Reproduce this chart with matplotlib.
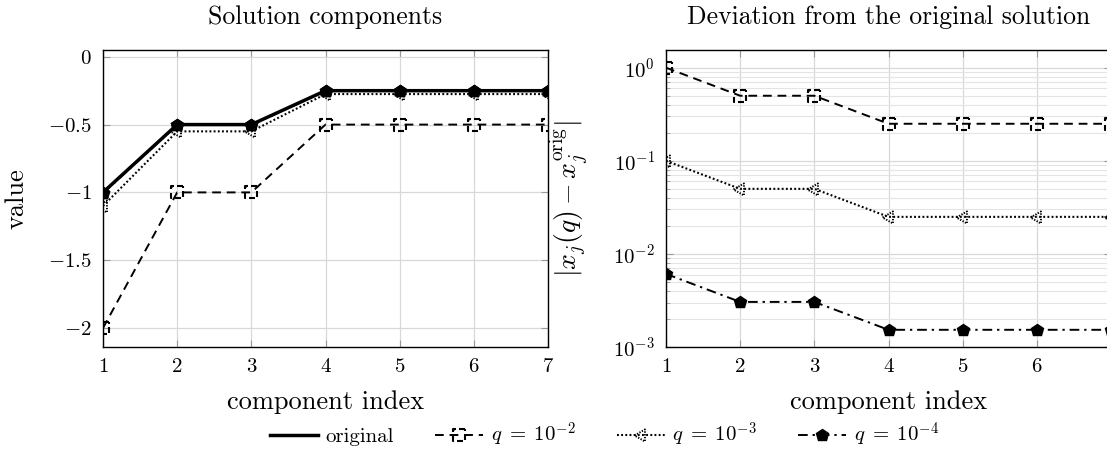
import numpy as np
import matplotlib
matplotlib.use("Agg")
import matplotlib.pyplot as plt
from matplotlib.path import Path
from matplotlib.lines import Line2D
from matplotlib.ticker import FuncFormatter, FixedLocator

plt.rcParams['font.family'] = 'cmr10'
plt.rcParams['mathtext.fontset'] = 'cm'
plt.rcParams['axes.formatter.use_mathtext'] = True

# data
idx = [1, 2, 3, 4, 5, 6, 7]
original = [-1.0, -0.5, -0.5, -0.25, -0.25, -0.25, -0.25]
sol_q2 = [-2.0, -1.0, -1.0, -0.5, -0.5, -0.5, -0.5]
sol_q3 = [-1.1, -0.55, -0.55, -0.275, -0.275, -0.275, -0.275]
sol_q4 = [-1.0061, -0.50305, -0.50305, -0.25153, -0.25153, -0.25153, -0.25153]
dev_q2 = [1.0, 0.5, 0.5, 0.25, 0.25, 0.25, 0.25]
dev_q3 = [0.1, 0.05, 0.05, 0.025, 0.025, 0.025, 0.025]
dev_q4 = [0.0061, 0.00305, 0.00305, 0.00153, 0.00153, 0.00153, 0.00153]
labels = ['original', r'$q\;=\;10^{-2}$', r'$q\;=\;10^{-3}$', r'$q\;=\;10^{-4}$']


def dashed_marker(verts, on, off, n=600):
    # outline of a closed polygon cut up with a dash pattern (pgfplots look)
    verts = np.asarray(verts, float)
    pts = np.vstack([verts, verts[:1]])
    seg = np.hypot(*np.diff(pts, axis=0).T)
    cum = np.cumsum(np.r_[0, seg])
    s = np.unique(np.concatenate([np.linspace(0, cum[-1], n), cum]))
    xs = np.interp(s, cum, pts[:, 0])
    ys = np.interp(s, cum, pts[:, 1])
    onmask = (s % (on + off)) < on
    v, c = [], []
    prev = False
    for x, y, m in zip(xs, ys, onmask):
        if m:
            v.append((x, y))
            c.append(Path.LINETO if prev else Path.MOVETO)
        prev = m
    return Path(v, c)


square_m = dashed_marker([(1, 1), (-1, 1), (-1, -1), (1, -1)], 1.0, 0.55)
tri_m = dashed_marker([(-1, 0), (0.5, 0.866), (0.5, -0.866)], 0.2, 0.2)

styles = [
    dict(color='black', lw=2.5, ls='-'),
    dict(color='black', lw=1.4, ls=(0, (4.5, 3)), marker=square_m, ms=8.5, mew=1.5),
    dict(color='black', lw=1.5, ls=(0, (0.9, 1.1)), marker=tri_m, ms=10, mew=1.4),
    dict(color='black', lw=1.4, ls=(0, (5, 2.5, 1.2, 2.5)), marker='p', ms=9,
         mfc='black', mec='black'),
]

fig = plt.figure(figsize=(11.07, 4.59), dpi=100)
ax1 = fig.add_axes([103 / 1107, 112 / 459, 445 / 1107, 297 / 459])
ax2 = fig.add_axes([666 / 1107, 112 / 459, 445 / 1107, 297 / 459])

ax1.plot(idx, sol_q2, **styles[1], zorder=3)
ax1.plot(idx, sol_q3, **styles[2], zorder=3)
ax1.plot(idx, sol_q4, **styles[3], zorder=3)
ax1.plot(idx, original, **styles[0], zorder=4)
ax1.plot(idx, sol_q4, ls='none', marker='p', ms=9, color='black', zorder=5)

ax2.plot(idx, dev_q2, **styles[1], zorder=3)
ax2.plot(idx, dev_q3, **styles[2], zorder=3)
ax2.plot(idx, dev_q4, **styles[3], zorder=3)
ax2.set_yscale('log')

ax1.set_xlim(1, 7)
ax1.set_ylim(-2.14, 0.05)
ax1.yaxis.set_major_locator(FixedLocator([0, -0.5, -1, -1.5, -2]))
ax1.yaxis.set_major_formatter(FuncFormatter(lambda v, p: '$%g$' % v))
ax2.set_xlim(1, 7)
ax2.set_ylim(1e-3, 1.55)

for ax in (ax1, ax2):
    ax.set_xticks(idx)
    ax.xaxis.set_major_formatter(FuncFormatter(lambda v, p: '$%d$' % v))
    ax.grid(True, which='major', color='#d8d8d8', lw=0.9)
    ax.tick_params(which='both', direction='in', top=True, right=True,
                   color='#999999', labelsize=15, pad=8)
    ax.tick_params(which='major', length=5)
    ax.tick_params(which='minor', length=3)
    for sp in ax.spines.values():
        sp.set_linewidth(1.0)
    ax.set_xlabel('component index', fontsize=19, labelpad=10)
    ax.set_axisbelow(True)
ax2.grid(True, which='minor', color='#e4e4e4', lw=0.8)

ax1.set_ylabel('value', fontsize=19, labelpad=14)
ax2.set_ylabel(r'$|x_j(q) - x_j^{\mathrm{orig}}|$', fontsize=20, labelpad=16)
ax1.set_title('Solution components', fontsize=18.5, pad=19)
ax2.set_title('Deviation from the original solution', fontsize=18.5, pad=19)

handles = [Line2D([], [], **st) for st in styles]
fig.legend(handles, labels, loc='lower center', bbox_to_anchor=(0.546, -0.02),
           ncol=4, frameon=False, fontsize=15, handlelength=2.3,
           columnspacing=2.0, handletextpad=0.35)

fig.savefig('out.png', dpi=100)
